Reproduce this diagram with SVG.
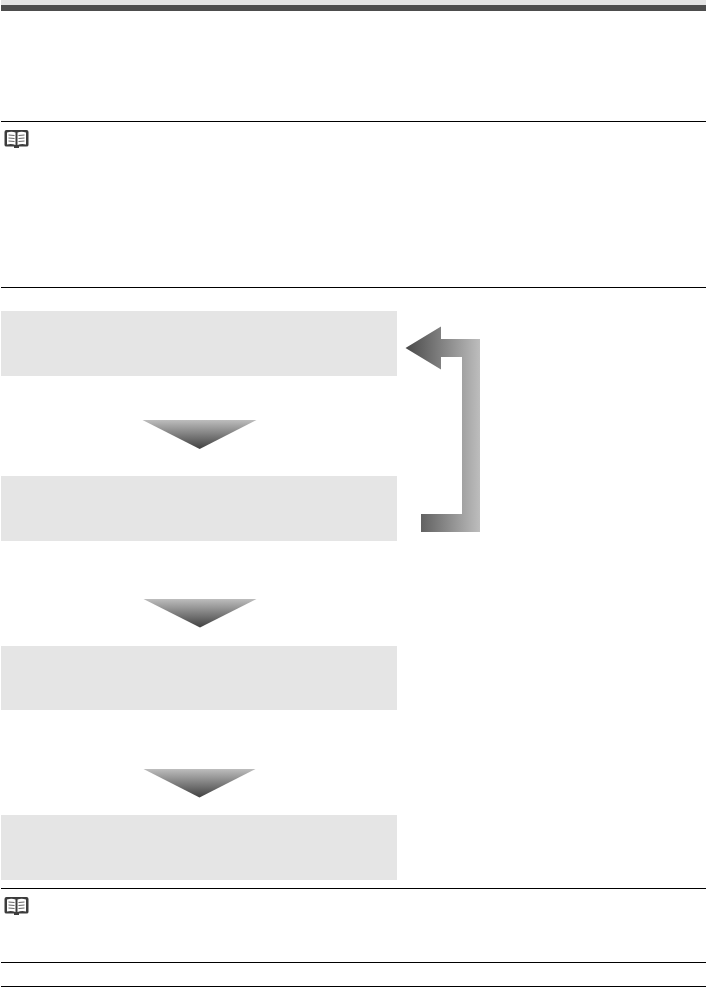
<svg xmlns="http://www.w3.org/2000/svg" width="707" height="987" viewBox="0 0 707 987">
<style>
.box{fill:#e5e5e5}
.rule{stroke:#000;stroke-width:1.2;fill:none}
.bk{fill:#3c3c3c}
.pg{fill:#fff}
.ln{stroke:#666;stroke-width:1;fill:none}
</style>
<defs>
<linearGradient id="down" x1="0" y1="0" x2="0" y2="1"><stop offset="0" stop-color="#bdbdbd"/><stop offset="1" stop-color="#404040"/></linearGradient>
<linearGradient id="back" gradientUnits="userSpaceOnUse" x1="406" y1="0" x2="480" y2="0"><stop offset="0" stop-color="#4a4a4a"/><stop offset="1" stop-color="#bdbdbd"/></linearGradient>
<g id="book">
<path class="bk" d="M0 2Q0 0 2 0H22Q24 0 24 2V15Q24 16.500 22 16.500H14.500V18H9.500V16.500H2Q0 16.500 0 15Z"/>
<path class="pg" d="M2.500 2.500Q7 1 11 2.500V15Q7 13.500 2.500 14.500Z"/>
<path class="pg" d="M13 2.500Q17 1 21.500 2.500V14.500Q17 13.500 13 15Z"/>
<path class="ln" d="M4 5L10 5.500M4 8L10 8.500M4 11L10 11.500M14 5.500L20 5M14 8.500L20 8M14 11.500L20 11"/>
</g>
</defs>
<g id="header"><rect x="1" y="0" width="705" height="5" fill="#e3e3e3"/><rect x="1" y="5" width="705" height="6" fill="#4d4d4d"/></g>
<g id="rules">
<path class="rule" d="M1 121.500H706M1 287.500H706M1 888.500H706M1 962.500H706M1 986.500H706"/>
</g>
<g id="note-icon-1"><use href="#book" x="4.500" y="130"/></g>
<g id="note-icon-2"><use href="#book" x="4.500" y="897"/></g>
<g id="step-1"><rect class="box" x="1" y="311" width="396" height="65"/></g>
<g id="step-2"><rect class="box" x="1" y="476" width="396" height="65"/></g>
<g id="step-3"><rect class="box" x="1" y="646" width="396" height="64"/></g>
<g id="step-4"><rect class="box" x="1" y="815" width="396" height="65"/></g>
<g id="connectors">
<polygon fill="url(#down)" points="142.500,420 256.500,420 199.700,449"/>
<polygon fill="url(#down)" points="143.500,599 256.500,599 200,627.500"/>
<polygon fill="url(#down)" points="143.500,769 255.500,769 199.500,797.500"/>
<polygon fill="url(#back)" points="405.500,348 441,326.500 441,339 480,339 480,532 421,532 421,514 462,514 462,357 441,357 441,369.500"/>
</g>
</svg>
